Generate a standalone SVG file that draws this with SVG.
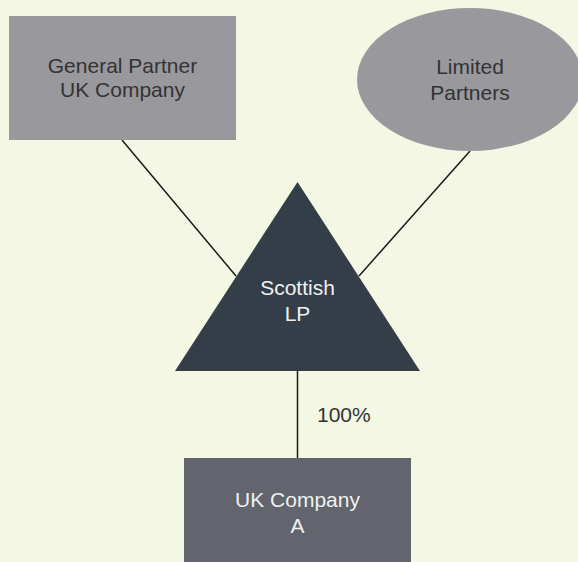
<svg xmlns="http://www.w3.org/2000/svg" width="578" height="562" viewBox="0 0 578 562">
  <style>
    .bg { fill: #f4f7e3; }
    .light { fill: #99989d; }
    .tri { fill: #343e48; }
    .dark { fill: #62656d; }
    .link { stroke: #1a1a1a; stroke-width: 1.5; fill: none; }
    text { font-family: "Liberation Sans", Arial, Helvetica, sans-serif; font-size: 21px; text-anchor: middle; }
    .t-dark { fill: #333333; }
    .t-light { fill: #f0f0f0; }
    .label { fill: #333333; text-anchor: start; }
  </style>
  <rect class="bg" x="0" y="0" width="578" height="562"/>

  <g id="connectors">
    <line class="link" x1="122" y1="140" x2="236" y2="276"/>
    <line class="link" x1="470" y1="151" x2="359" y2="276"/>
    <line class="link" x1="297.5" y1="371" x2="297.5" y2="458"/>
    <text class="label" x="317" y="422">100%</text>
  </g>

  <g id="general-partner">
    <rect class="light" x="9" y="16" width="227" height="124"/>
    <text class="t-dark" x="122.5" y="72.5">General Partner</text>
    <text class="t-dark" x="122.5" y="97">UK Company</text>
  </g>

  <g id="limited-partners">
    <ellipse class="light" cx="470" cy="79.5" rx="113" ry="71.5"/>
    <text class="t-dark" x="470" y="74">Limited</text>
    <text class="t-dark" x="470" y="99.5">Partners</text>
  </g>

  <g id="scottish-lp">
    <polygon class="tri" points="297.5,182 175,371 420,371"/>
    <text class="t-light" x="297.5" y="295">Scottish</text>
    <text class="t-light" x="297.5" y="321">LP</text>
  </g>

  <g id="uk-company-a">
    <rect class="dark" x="184" y="458" width="227" height="110"/>
    <text class="t-light" x="297.5" y="507">UK Company</text>
    <text class="t-light" x="297.5" y="533">A</text>
  </g>
</svg>
